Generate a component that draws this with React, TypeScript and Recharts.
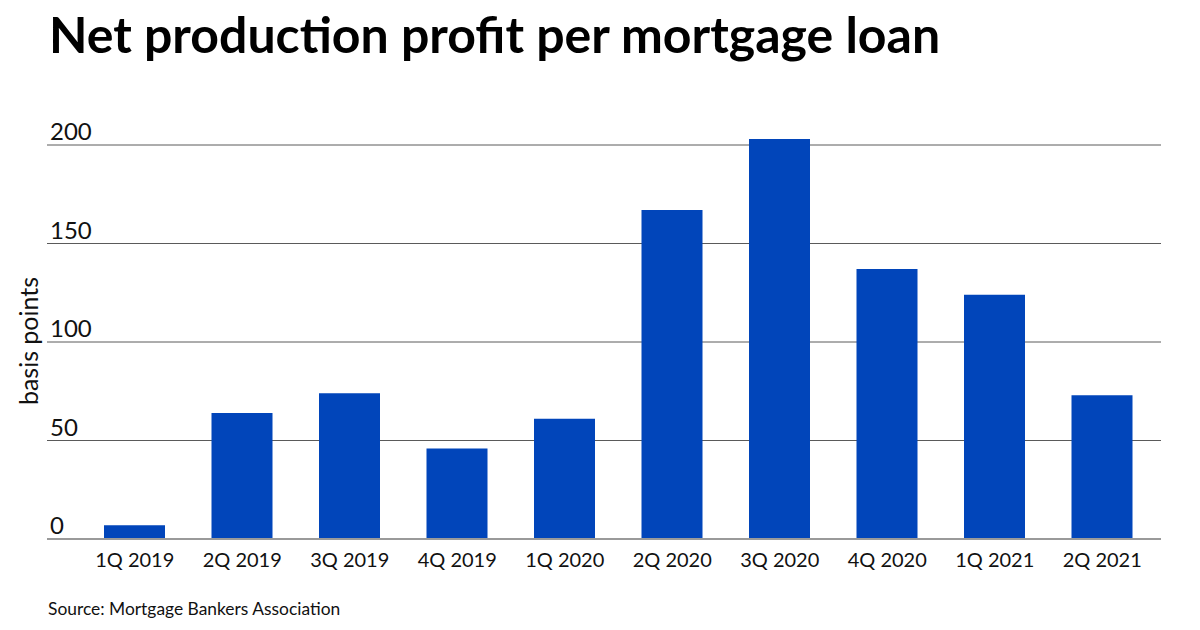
import React from 'react';
import { BarChart, Bar, XAxis, YAxis, CartesianGrid } from 'recharts';

// Quarter labels and profit in basis points
const QUARTERS = ['1Q 2019', '2Q 2019', '3Q 2019', '4Q 2019', '1Q 2020', '2Q 2020', '3Q 2020', '4Q 2020', '1Q 2021', '2Q 2021'];
const PROFIT_BPS = [7, 64, 74, 46, 61, 167, 203, 137, 124, 73];
const Y_TICKS = [0, 50, 100, 150, 200];

const FONT = 'Lato, "Noto Sans", sans-serif';
const BAR_COLOR = '#0145BA';

const chartData = QUARTERS.map((q, i) => ({ quarter: q, value: PROFIT_BPS[i] }));

const XTick = (props: any) => {
  const { x, y, payload } = props;
  return (
    <text x={x} y={y + 28} textAnchor="middle" fontFamily={FONT} fontSize={20} fill="#111">
      {payload.value}
    </text>
  );
};

const YTick = (props: any) => {
  const { y, payload } = props;
  return (
    <text x={50} y={y - 5} textAnchor="start" fontFamily={FONT} fontSize={24} fill="#111">
      {payload.value}
    </text>
  );
};

export default function App() {
  return (
    <div style={{ position: 'absolute', left: 0, top: 0, width: 1200, height: 630, background: '#fff', overflow: 'hidden' }}>
      <div style={{ position: 'absolute', left: 49, top: 9, fontFamily: FONT, fontWeight: 700, fontSize: 50, lineHeight: '50px', color: '#000', whiteSpace: 'nowrap' }}>
        Net production profit per mortgage loan
      </div>
      <div style={{ position: 'absolute', left: 28, top: 341, transform: 'translate(-50%, -50%) rotate(-90deg)', fontFamily: FONT, fontSize: 25, color: '#111', whiteSpace: 'nowrap' }}>
        basis points
      </div>
      <BarChart
        width={1200}
        height={630}
        data={chartData}
        margin={{ top: 105.6, right: 39, bottom: 51, left: 0 }}
        style={{ position: 'absolute', left: 0, top: 0 }}
      >
        <CartesianGrid horizontal vertical={false} horizontalValues={Y_TICKS} stroke="#5a5a5a" strokeWidth={1} />
        <XAxis
          dataKey="quarter"
          interval={0}
          height={40}
          padding={{ left: 34, right: 5 }}
          tickLine={false}
          tickSize={0}
          tickMargin={0}
          axisLine={{ stroke: '#9a9a9a', strokeWidth: 2 }}
          tick={<XTick />}
        />
        <YAxis
          width={47}
          domain={[0, 220]}
          ticks={Y_TICKS}
          allowDataOverflow
          axisLine={false}
          tickLine={false}
          tick={<YTick />}
        />
        <Bar dataKey="value" fill={BAR_COLOR} barSize={61} isAnimationActive={false} />
      </BarChart>
      <div style={{ position: 'absolute', left: 48, top: 598, fontFamily: FONT, fontSize: 17.4, color: '#111', whiteSpace: 'nowrap' }}>
        Source: Mortgage Bankers Association
      </div>
    </div>
  );
}
